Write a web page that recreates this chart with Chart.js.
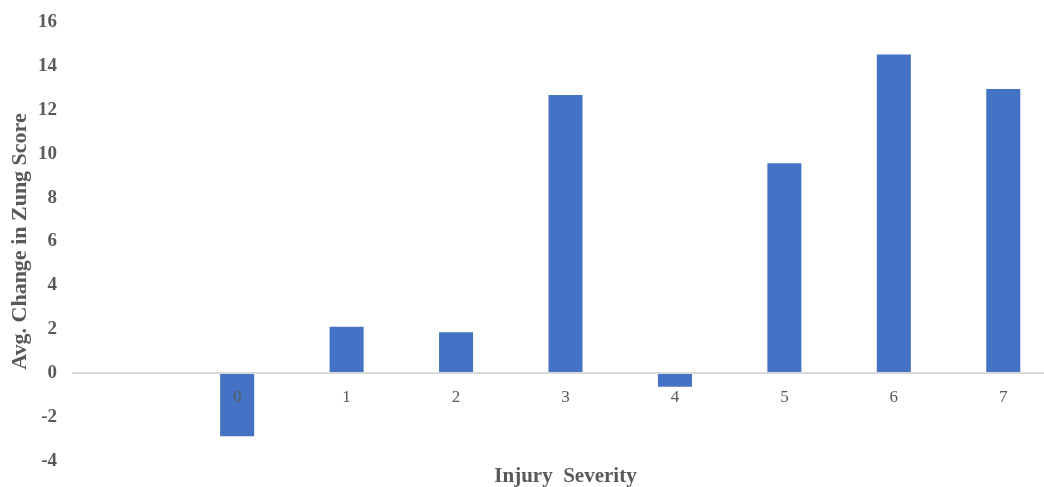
<!DOCTYPE html>
<html>
<head>
<meta charset="utf-8">
<script src="https://cdn.jsdelivr.net/npm/chart.js@4/dist/chart.umd.min.js"></script>
<style>
  html, body { margin: 0; padding: 0; background: #fff; overflow: hidden; }
  #wrap { width: 1058px; height: 487px; position: relative; }
</style>
</head>
<body>
<div id="wrap"><canvas id="c"></canvas></div>
<script>
const categories = ['', '0', '1', '2', '3', '4', '5', '6', '7'];
const avgChange = [null, -2.87, 2.12, 1.87, 12.67, -0.62, 9.56, 14.52, 12.95];
const yTicks = { min: -4, max: 16, step: 2 };

const gray = '#595959';
const serif = "'Liberation Serif', 'Times New Roman', serif";

new Chart(document.getElementById('c'), {
  type: 'bar',
  data: {
    labels: categories,
    datasets: [{
      data: avgChange,
      backgroundColor: '#4472c4',
      borderWidth: 0,
      barPercentage: 0.311,
      categoryPercentage: 1.0,
      xAxisID: 'x'
    }]
  },
  options: {
    responsive: true,
    maintainAspectRatio: false,
    animation: false,
    layout: { padding: { top: 22, right: 0, bottom: 0, left: 0 } },
    plugins: {
      legend: { display: false },
      tooltip: { enabled: false }
    },
    scales: {
      x: {
        position: { y: 0 },
        grid: { display: false, drawTicks: false },
        border: { display: true, color: '#d9d9d9', width: 2, z: 1 },
        ticks: {
          z: 1,
          color: gray,
          padding: 14,
          maxRotation: 0,
          autoSkip: false,
          font: { family: serif, size: 17 }
        }
      },
      xt: {
        type: 'category',
        labels: categories,
        position: 'bottom',
        grid: { display: false, drawTicks: false },
        border: { display: false },
        ticks: { display: false },
        title: {
          display: true,
          text: 'Injury  Severity',
          color: gray,
          padding: { top: 5, bottom: 0 },
          font: { family: serif, size: 21, weight: 'bold', lineHeight: 1 }
        }
      },
      y: {
        min: yTicks.min,
        max: yTicks.max,
        grid: { display: false, drawTicks: false },
        border: { display: false },
        afterFit: (s) => { s.width = 73; s.paddingTop = 0; s.paddingBottom = 0; },
        ticks: {
          stepSize: yTicks.step,
          color: gray,
          padding: 16,
          font: { family: serif, size: 19, weight: 'bold' }
        },
        title: {
          display: true,
          text: 'Avg. Change in Zung Score',
          color: gray,
          padding: { top: 7, bottom: 0 },
          font: { family: serif, size: 22, weight: 'bold' }
        }
      }
    }
  }
});
</script>
</body>
</html>
